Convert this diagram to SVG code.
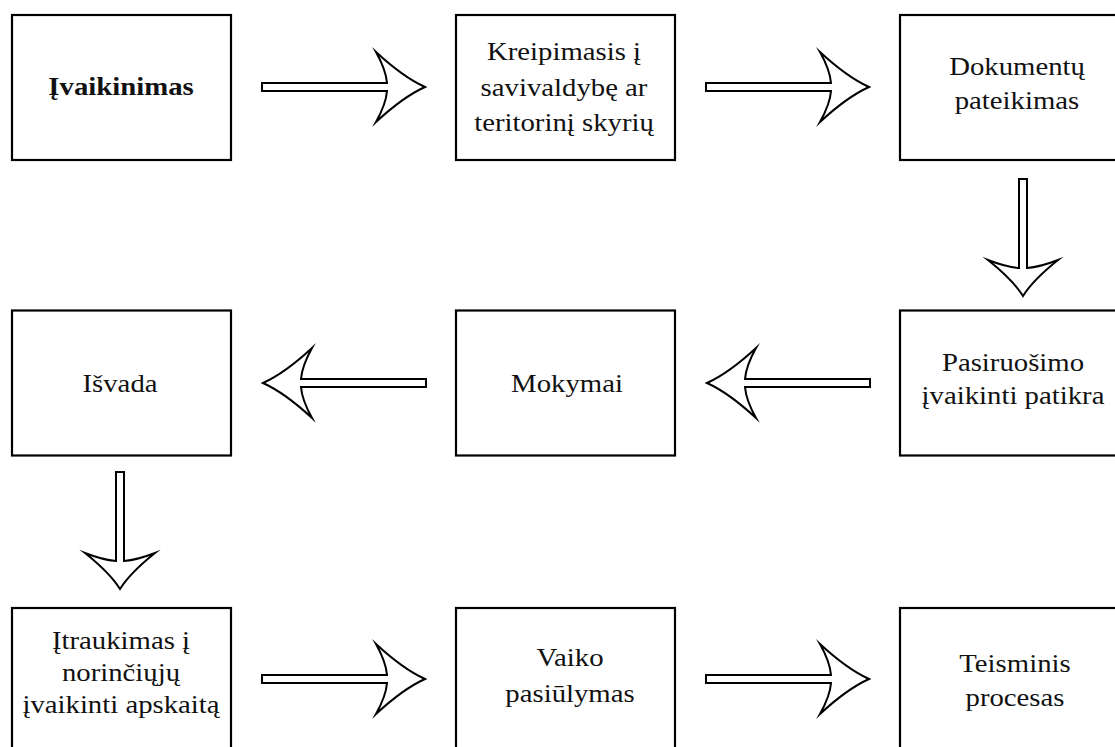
<svg xmlns="http://www.w3.org/2000/svg" xmlns:xlink="http://www.w3.org/1999/xlink" width="1115" height="747" viewBox="0 0 1115 747">
<style>
.box{fill:#fff;stroke:#000;stroke-width:2.2}
.arr{fill:#fff;stroke:#000;stroke-width:2;stroke-linejoin:miter;stroke-miterlimit:10}
text{font-family:"Liberation Serif","Times New Roman",serif;font-size:25px;fill:#111;text-anchor:middle}
.b{font-weight:bold}
</style>
<defs>
<path id="ah" d="M0,0 Q-22,-10 -49,-35 Q-39,-17 -38,-4 L-163,-4 L-163,4 L-38,4 Q-39,17 -49,35 Q-22,10 0,0 Z"/>
<path id="av" d="M0,0 Q-10,-16 -35,-36 Q-17,-29 -4,-28 L-4,-117 L4,-117 L4,-28 Q17,-29 35,-36 Q10,-16 0,0 Z"/>
</defs>
<rect width="1115" height="747" fill="#fff"/>
<g id="connectors" class="arr">
<use xlink:href="#ah" transform="translate(425,87)"/>
<use xlink:href="#ah" transform="translate(869,87)"/>
<use xlink:href="#av" transform="translate(1023,296)"/>
<use xlink:href="#ah" transform="translate(707,383) scale(-1,1)"/>
<use xlink:href="#ah" transform="translate(263,383) scale(-1,1)"/>
<use xlink:href="#av" transform="translate(120,589)"/>
<use xlink:href="#ah" transform="translate(425,679)"/>
<use xlink:href="#ah" transform="translate(869,679)"/>
</g>
<g id="n1"><rect class="box" x="12" y="15" width="219" height="145"/>
<text class="b" transform="translate(121 0) scale(1.15 1)" x="0" y="95">Įvaikinimas</text></g>
<g id="n2"><rect class="box" x="456" y="15" width="219" height="145"/>
<text transform="translate(564 0) scale(1.15 1)"><tspan x="0" y="60">Kreipimasis į</tspan><tspan x="0" y="96">savivaldybę ar</tspan><tspan x="0" y="131">teritorinį skyrių</tspan></text></g>
<g id="n3"><rect class="box" x="900" y="15" width="232" height="145"/>
<text transform="translate(1017 0) scale(1.15 1)"><tspan x="0" y="75">Dokumentų</tspan><tspan x="0" y="109">pateikimas</tspan></text></g>
<g id="n4"><rect class="box" x="900" y="310.5" width="232" height="145"/>
<text transform="translate(1013 0) scale(1.15 1)"><tspan x="0" y="371">Pasiruošimo</tspan><tspan x="0" y="404">įvaikinti patikra</tspan></text></g>
<g id="n5"><rect class="box" x="456" y="310.5" width="219" height="145"/>
<text transform="translate(567 0) scale(1.15 1)" x="0" y="392">Mokymai</text></g>
<g id="n6"><rect class="box" x="12" y="310.5" width="219" height="145"/>
<text transform="translate(120 0) scale(1.15 1)" x="0" y="392">Išvada</text></g>
<g id="n7"><rect class="box" x="12" y="608" width="219" height="145"/>
<text transform="translate(121 0) scale(1.15 1)"><tspan x="0" y="649">Įtraukimas į</tspan><tspan x="0" y="681">norinčiųjų</tspan><tspan x="0" y="713">įvaikinti apskaitą</tspan></text></g>
<g id="n8"><rect class="box" x="456" y="608" width="219" height="145"/>
<text transform="translate(570 0) scale(1.15 1)"><tspan x="0" y="666">Vaiko</tspan><tspan x="0" y="702">pasiūlymas</tspan></text></g>
<g id="n9"><rect class="box" x="900" y="608" width="232" height="145"/>
<text transform="translate(1015 0) scale(1.15 1)"><tspan x="0" y="672">Teisminis</tspan><tspan x="0" y="706">procesas</tspan></text></g>
</svg>
